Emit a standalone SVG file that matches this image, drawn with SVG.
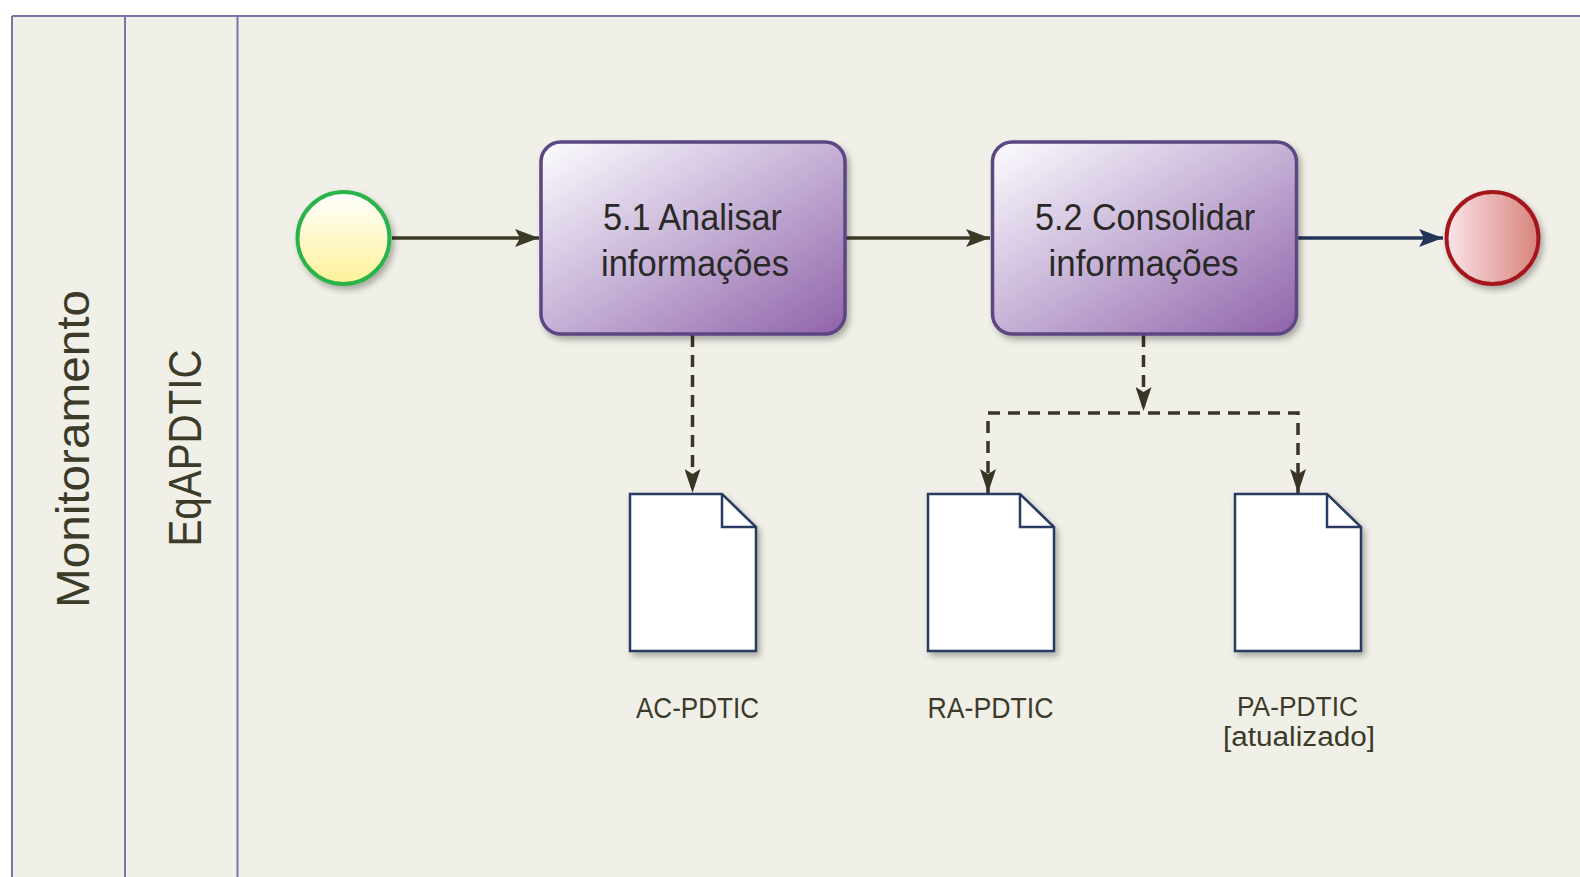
<svg xmlns="http://www.w3.org/2000/svg" width="1580" height="877" viewBox="0 0 1580 877">
<style>
.lane{fill:none;stroke:#7A72A8;stroke-width:2}
.lbl{font-family:"Liberation Sans",Arial,sans-serif;fill:#3C3B29}
.ttxt{font-family:"Liberation Sans",Arial,sans-serif;font-size:36px;fill:#2A2926;text-anchor:middle}
.dtxt{font-family:"Liberation Sans",Arial,sans-serif;font-size:30px;fill:#3C3B29;text-anchor:middle}
.task{stroke:#5C4683;stroke-width:3.5;fill:url(#gTask)}
.doc{fill:#FFFFFF;stroke:#2A3A62;stroke-width:2.5;stroke-linejoin:miter}
.flow{fill:none;stroke:#3B3A26;stroke-width:3.5}
.assoc{fill:none;stroke:#3A3426;stroke-width:3.5;stroke-dasharray:12 8}
</style>
<defs>
<linearGradient id="gTask" x1="0" y1="0" x2="1" y2="1">
<stop offset="0" stop-color="#FDFCFE"/>
<stop offset="0.5" stop-color="#C5B1D6"/>
<stop offset="1" stop-color="#9063A9"/>
</linearGradient>
<linearGradient id="gStart" x1="0" y1="0" x2="0" y2="1">
<stop offset="0" stop-color="#FFFFFF"/>
<stop offset="1" stop-color="#FDF197"/>
</linearGradient>
<linearGradient id="gEnd" x1="0" y1="0" x2="1" y2="0">
<stop offset="0" stop-color="#FCE3EA"/>
<stop offset="1" stop-color="#D7847A"/>
</linearGradient>
<filter id="sh" x="-20%" y="-20%" width="140%" height="140%">
<feDropShadow dx="3" dy="4" stdDeviation="3" flood-color="#000" flood-opacity="0.3"/>
</filter>
<marker id="aOl" viewBox="0 0 24 18" refX="24" refY="9" markerWidth="24" markerHeight="18" markerUnits="userSpaceOnUse" orient="auto">
<path d="M0,0 L24,9 L0,18 L5,9 z" fill="#3B3A26"/>
</marker>
<marker id="aNv" viewBox="0 0 24 18" refX="24" refY="9" markerWidth="24" markerHeight="18" markerUnits="userSpaceOnUse" orient="auto">
<path d="M0,0 L24,9 L0,18 L5,9 z" fill="#243657"/>
</marker>
<marker id="aDs" viewBox="0 0 24 16" refX="24" refY="8" markerWidth="24" markerHeight="16" markerUnits="userSpaceOnUse" orient="auto">
<path d="M0,0 L24,8 L0,16 L5,8 z" fill="#3A3426"/>
</marker>
</defs>

<g id="pool">
<rect x="0" y="0" width="1580" height="877" fill="#FFFFFF"/>
<rect x="12" y="16" width="1580" height="880" fill="#F1F0E8"/>
<line class="lane" x1="12" y1="16" x2="1580" y2="16"/>
<line class="lane" x1="12" y1="16" x2="12" y2="877"/>
<line class="lane" x1="125" y1="16" x2="125" y2="877"/>
<line class="lane" x1="237.5" y1="16" x2="237.5" y2="877"/>
<text class="lbl" font-size="47" text-anchor="middle" transform="translate(88.5,449) rotate(-90)" textLength="318" lengthAdjust="spacingAndGlyphs">Monitoramento</text>
<text class="lbl" font-size="46" text-anchor="middle" transform="translate(200.5,448) rotate(-90)" textLength="197" lengthAdjust="spacingAndGlyphs">EqAPDTIC</text>
</g>

<g id="connectors">
<line class="flow" x1="392" y1="238" x2="539" y2="238" marker-end="url(#aOl)"/>
<line class="flow" x1="846" y1="238" x2="990" y2="238" marker-end="url(#aOl)"/>
<line class="flow" x1="1298" y1="238" x2="1443" y2="238" style="stroke:#243657" marker-end="url(#aNv)"/>
<line class="assoc" x1="692.5" y1="335" x2="692.5" y2="493" marker-end="url(#aDs)"/>
<line class="assoc" x1="1143.5" y1="335" x2="1143.5" y2="411" marker-end="url(#aDs)"/>
<path class="assoc" d="M988,493 V413 H1298 V493"/>
<line x1="988" y1="470" x2="988" y2="493" stroke="none" marker-end="url(#aDs)"/>
<line x1="1298" y1="470" x2="1298" y2="493" stroke="none" marker-end="url(#aDs)"/>
</g>

<g id="start">
<circle cx="343.5" cy="238" r="46" fill="url(#gStart)" stroke="#2BB24C" stroke-width="4" filter="url(#sh)"/>
</g>

<g id="task51">
<rect class="task" x="541" y="142" width="304" height="192" rx="20" filter="url(#sh)"/>
<text class="ttxt" x="692.5" y="229.5" textLength="179" lengthAdjust="spacingAndGlyphs">5.1 Analisar</text>
<text class="ttxt" x="695" y="276" textLength="188" lengthAdjust="spacingAndGlyphs">informações</text>
</g>

<g id="task52">
<rect class="task" x="992.5" y="142" width="304" height="192" rx="20" filter="url(#sh)"/>
<text class="ttxt" x="1145" y="229.5" textLength="220" lengthAdjust="spacingAndGlyphs">5.2 Consolidar</text>
<text class="ttxt" x="1143.5" y="276" textLength="190" lengthAdjust="spacingAndGlyphs">informações</text>
</g>

<g id="end">
<circle cx="1492.5" cy="238" r="46" fill="url(#gEnd)" stroke="#A5161E" stroke-width="4" filter="url(#sh)"/>
</g>

<g id="docAC">
<path class="doc" d="M630,494 H722 L756,527 V651 H630 Z" filter="url(#sh)"/>
<path class="doc" d="M722,494 V527 H756" style="fill:none"/>
<text class="dtxt" x="697.5" y="717.5" textLength="123" lengthAdjust="spacingAndGlyphs">AC-PDTIC</text>
</g>

<g id="docRA">
<path class="doc" d="M928,494 H1020 L1054,527 V651 H928 Z" filter="url(#sh)"/>
<path class="doc" d="M1020,494 V527 H1054" style="fill:none"/>
<text class="dtxt" x="990.5" y="717.5" textLength="126" lengthAdjust="spacingAndGlyphs">RA-PDTIC</text>
</g>

<g id="docPA">
<path class="doc" d="M1235,494 H1327 L1361,527 V651 H1235 Z" filter="url(#sh)"/>
<path class="doc" d="M1327,494 V527 H1361" style="fill:none"/>
<text class="dtxt" x="1297.5" y="715.5" font-size="27" style="font-size:27px" textLength="121" lengthAdjust="spacingAndGlyphs">PA-PDTIC</text>
<text class="dtxt" x="1299" y="746" font-size="27" style="font-size:27px" textLength="152" lengthAdjust="spacingAndGlyphs">[atualizado]</text>
</g>
</svg>
